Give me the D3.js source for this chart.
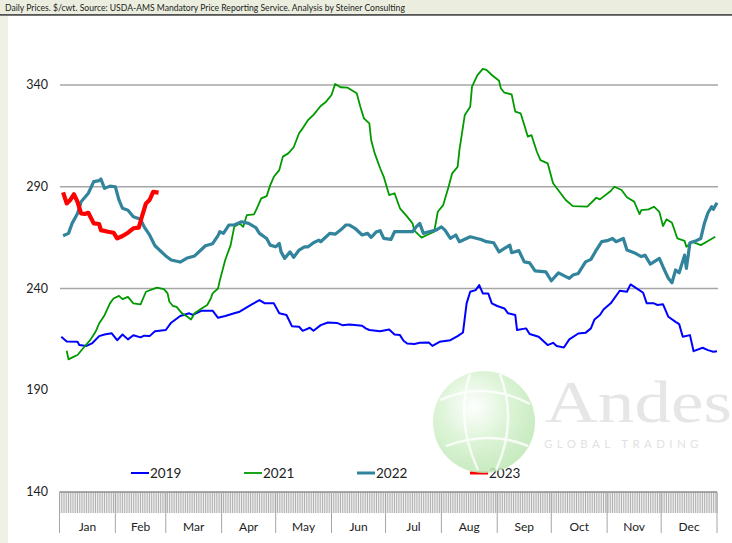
<!DOCTYPE html>
<html>
<head>
<meta charset="utf-8">
<script src="https://cdn.jsdelivr.net/npm/d3@7"></script>
<style>
  body { margin: 0; background: #fff; }
  svg { display: block; font-family: Lato, "Liberation Sans", sans-serif; }
</style>
</head>
<body>
<svg id="chart" width="732" height="543"></svg>
<script>
const TITLE = "Daily Prices. $/cwt. Source: USDA-AMS Mandatory Price Reporting Service. Analysis by Steiner Consulting";
const months = ["Jan","Feb","Mar","Apr","May","Jun","Jul","Aug","Sep","Oct","Nov","Dec"];
const monthStarts = [0,31,59,90,120,151,181,212,243,273,304,334,365];
const yTicks = [340, 290, 240, 190, 140];
const gridTicks = [340, 290, 240];

// [day of year, $/cwt]
const s2019 = [[1,216.3],[4,214],[10,213.8],[11,212.2],[15,211.8],[18,213],[22,216.6],[25,217.4],[29,218],[32,214.6],[35,217.4],[38,215],[41,217],[45,216],[47,216.8],[50,216.6],[53,219],[59,219.6],[62,223.2],[67,226.5],[72,227.8],[74,227],[79,229.1],[85,229.1],[88,225.6],[92,226.5],[97,227.8],[100,228.6],[107,232.3],[111,234.3],[114,232.7],[119,232.7],[122,227.8],[126,227],[129,221.5],[133,221.2],[135,219.2],[139,220.7],[141,219.2],[145,222],[149,223.3],[154,223.1],[157,222],[161,222.3],[168,221.7],[170,220.4],[172,219.6],[178,219],[183,219.9],[186,217.4],[189,217.1],[191,214.3],[193,213],[197,212.7],[200,213.3],[205,213.5],[207,211.8],[211,213.8],[217,214.6],[221,216.6],[224,218.4],[226,232.7],[228,238.4],[231,239.2],[233,241.7],[235,237.6],[238,237.6],[240,232.7],[243,231.4],[247,230.2],[249,227.8],[253,227],[254,219.6],[259,220.4],[261,217.6],[266,216.3],[271,212.2],[274,213.3],[276,211.7],[280,211],[283,215],[288,217.9],[292,218.2],[295,220.4],[297,224.8],[300,227],[302,229.7],[306,232.7],[311,238.9],[315,238.4],[317,242],[321,239.7],[324,237.9],[326,232.7],[330,232.7],[332,231.9],[335,232.3],[338,226.1],[342,223.6],[344,222.5],[346,216.3],[350,217.1],[352,209.2],[357,210.9],[360,209.7],[363,208.9],[365,209.2]];

const s2021 = [[4,209.4],[5,205.2],[8,206.5],[10,207.3],[13,210.5],[17,214.6],[20,218.7],[22,222.8],[25,226.9],[28,232.7],[30,235.1],[33,236.4],[35,234.8],[38,235.9],[41,232.7],[45,232.2],[48,238.4],[54,240.4],[58,239.7],[60,237.6],[61,233.5],[63,231.4],[65,231],[68,227.8],[71,226.1],[73,224.8],[75,227.8],[78,229.7],[82,231.9],[84,235.1],[85,237.6],[88,240],[89,244],[92,254],[95,261.3],[97,270.3],[100,272],[102,270.3],[104,276.1],[108,276.4],[110,280.2],[112,284.3],[115,285.4],[117,290.8],[119,294.9],[122,298.2],[124,304.8],[127,306.4],[130,309.4],[133,316.3],[135,318.7],[138,322.8],[141,325.3],[145,329.7],[148,331.8],[151,335.1],[153,340.5],[156,338.9],[160,338.7],[162,337.5],[165,335.9],[167,329.3],[169,323.6],[172,321.1],[173,313],[175,306.4],[178,299.1],[180,294.9],[183,285.9],[186,286.8],[189,279.4],[193,275.3],[196,272],[197,268.4],[201,265],[204,266.3],[208,267.9],[210,277.7],[213,281],[216,290],[218,296.6],[221,299.8],[222,308],[225,325.3],[228,329.3],[229,339.2],[232,344.9],[235,347.9],[237,347.4],[240,344.9],[244,342.1],[245,338.4],[247,336.2],[251,335.4],[253,326.9],[256,326.1],[260,314.6],[262,315.4],[265,307.2],[267,303.1],[271,301.5],[274,291.7],[281,283.5],[285,280.5],[293,280.2],[298,284.6],[300,283.8],[306,287.9],[308,290],[312,288.4],[315,284.8],[319,282.7],[322,276.6],[323,278.5],[327,278.9],[330,280.2],[333,277.7],[335,270.7],[337,274],[340,272.3],[343,264.6],[347,263.4],[348,260.5],[351,263],[356,261.3],[360,263.3],[364,265.4]];

const s2022 = [[2,265.9],[5,267.1],[7,272],[10,276.9],[12,282.6],[16,286.8],[19,292.5],[22,293],[23,293.8],[25,289.2],[28,290.3],[31,290],[33,283.5],[35,279.4],[38,278.5],[41,275.3],[45,274],[47,270.3],[50,266.3],[53,261],[59,256],[62,254],[67,253],[71,255],[75,256],[81,261],[85,262],[88,266],[89,267.9],[91,267.1],[94,271.2],[97,271.2],[101,272.8],[105,272],[109,269.9],[111,267.1],[115,264.6],[117,261.3],[120,260.5],[122,262.2],[123,258],[125,254.8],[128,258],[130,255.3],[133,258.9],[136,260.5],[138,260.5],[141,262.5],[144,263.8],[145,263],[148,265.4],[150,267.1],[153,266.7],[156,268.7],[159,271.2],[161,271.2],[164,269.6],[168,266.3],[171,267.1],[173,265.1],[176,267.9],[178,268.4],[180,264.6],[184,264.1],[186,267.9],[190,267.9],[196,267.9],[198,270.3],[200,272],[202,267.1],[205,267.9],[209,268.7],[212,270.3],[214,268.7],[217,264.6],[220,266.3],[222,263],[228,265.4],[234,264.1],[237,263],[241,262.5],[244,258],[247,259.7],[250,261.3],[251,257.6],[255,258.6],[258,253.1],[261,252.6],[264,248.7],[270,248.2],[273,243.8],[277,247.7],[283,245],[285,246.6],[288,247.4],[292,253.1],[295,254.3],[298,258.9],[301,263],[304,263.5],[307,264.6],[309,263],[313,264.6],[315,258.9],[319,257.6],[323,255.7],[325,256.4],[328,252],[333,254.8],[335,250.7],[338,245],[340,242.8],[342,249.1],[344,247.7],[347,256.4],[348,249.9],[350,262.5],[353,263.3],[356,264.6],[358,272],[360,277.2],[362,280.2],[363,278.9],[365,282.1]];

const s2023 = [[2,287.2],[4,281.8],[6,283.5],[8,286.3],[10,282.6],[12,276.9],[14,276.6],[16,277.2],[19,272],[22,271.7],[23,268.7],[27,267.9],[30,267.4],[32,264.6],[35,265.8],[38,267.4],[41,269.6],[44,269.9],[46,276.1],[48,281.8],[50,283.5],[52,287.5],[55,287.1]];

const series = [
  { name: "2019", data: s2019, color: "#0000ff", width: 2 },
  { name: "2021", data: s2021, color: "#009a00", width: 1.8 },
  { name: "2022", data: s2022, color: "#31849b", width: 3.2 },
  { name: "2023", data: s2023, color: "#ff0000", width: 4.2 }
];

const svg = d3.select("#chart");

// frame: title bar + left strip
svg.append("rect").attr("x", 0).attr("y", 0).attr("width", 732).attr("height", 14).attr("fill", "#ebeedf");
svg.append("rect").attr("x", 0).attr("y", 14).attr("width", 732).attr("height", 1.8).attr("fill", "#555");
svg.append("rect").attr("x", 0).attr("y", 16).attr("width", 8).attr("height", 527).attr("fill", "#eef1e3");
svg.append("text").attr("x", 5).attr("y", 11).attr("font-size", 8.6).attr("fill", "#222").text(TITLE);

const x = d3.scaleLinear().domain([0, 365]).range([59.5, 717]);
const y = d3.scaleLinear().domain([140, 340]).range([492, 85]);

// gridlines
svg.append("g").selectAll("line").data(gridTicks).enter().append("line")
  .attr("x1", 60).attr("x2", 718)
  .attr("y1", d => y(d)).attr("y2", d => y(d))
  .attr("stroke", "#a6a6a6").attr("stroke-width", 1.5);

// y labels
svg.append("g").selectAll("text").data(yTicks).enter().append("text")
  .attr("x", 48).attr("y", d => y(d) + 4)
  .attr("text-anchor", "end").attr("font-size", 12.5).attr("fill", "#222")
  .text(d => d);

// daily tick band
svg.append("g").selectAll("line").data(d3.range(0, 366)).enter().append("line")
  .attr("x1", d => x(d)).attr("x2", d => x(d))
  .attr("y1", y(140)).attr("y2", y(140) + 21)
  .attr("stroke", "#9a9a9a").attr("stroke-width", 0.8);
svg.append("line").attr("x1", x(0)).attr("x2", x(365))
  .attr("y1", y(140)).attr("y2", y(140))
  .attr("stroke", "#8c8c8c").attr("stroke-width", 1.5);

// month separators and labels
svg.append("g").selectAll("line").data(monthStarts).enter().append("line")
  .attr("x1", d => x(d)).attr("x2", d => x(d))
  .attr("y1", y(140)).attr("y2", 533)
  .attr("stroke", "#a6a6a6").attr("stroke-width", 1);
svg.append("g").selectAll("text").data(months).enter().append("text")
  .attr("x", (d, i) => x((monthStarts[i] + monthStarts[i + 1]) / 2))
  .attr("y", 531)
  .attr("text-anchor", "middle").attr("font-size", 12).attr("fill", "#222")
  .text(d => d);

// lines
const line = d3.line().x(d => x(d[0])).y(d => y(d[1]));
svg.append("g").selectAll("path").data(series).enter().append("path")
  .attr("fill", "none")
  .attr("stroke", d => d.color)
  .attr("stroke-width", d => d.width)
  .attr("stroke-linejoin", "round")
  .attr("d", d => line(d.data));

// legend
const legendX = [131, 244, 357, 470];
const legend = svg.append("g").selectAll("g").data(series).enter().append("g")
  .attr("transform", (d, i) => `translate(${legendX[i]},473)`);
legend.append("line").attr("x1", 0).attr("x2", 18).attr("y1", 0).attr("y2", 0)
  .attr("stroke", d => d.color).attr("stroke-width", d => Math.min(d.width, 3));
legend.append("text").attr("x", 19).attr("y", 5).attr("font-size", 13.5).attr("fill", "#222")
  .text(d => d.name);

// watermark
const defs = svg.append("defs");
const grad = defs.append("radialGradient").attr("id", "globe").attr("cx", "40%").attr("cy", "35%").attr("r", "65%");
grad.append("stop").attr("offset", "0%").attr("stop-color", "#ffffff");
grad.append("stop").attr("offset", "55%").attr("stop-color", "#d6f2cf");
grad.append("stop").attr("offset", "100%").attr("stop-color", "#bfe8b6");
const wm = svg.append("g").attr("opacity", 0.85);
wm.append("circle").attr("cx", 484).attr("cy", 422).attr("r", 51).attr("fill", "url(#globe)");
wm.append("path").attr("d", "M440,400 Q484,380 530,404 M446,446 Q490,430 528,446 M470,374 Q455,420 478,470 M500,374 Q518,422 496,470")
  .attr("fill", "none").attr("stroke", "#ffffff").attr("stroke-width", 2.5).attr("opacity", 0.8);
svg.append("text").attr("x", 545).attr("y", 422).attr("font-family", "'Liberation Serif', serif")
  .attr("font-size", 60).attr("textLength", 187).attr("lengthAdjust", "spacingAndGlyphs")
  .attr("fill", "#e6e6e6").text("Andes");
svg.append("text").attr("x", 544).attr("y", 448).attr("font-size", 11.5).attr("letter-spacing", 4.4)
  .attr("fill", "#e2e2e2").text("GLOBAL TRADING");
</script>
</body>
</html>
